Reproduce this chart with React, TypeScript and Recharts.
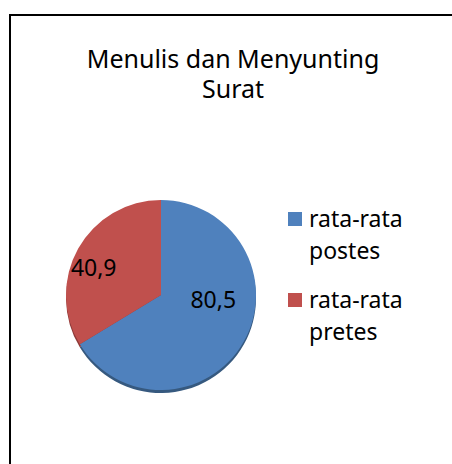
import { PieChart, Pie, Cell, Legend } from 'recharts'

const categories = ['rata-rata postes', 'rata-rata pretes']
const values = [80.5, 40.9]
const valueLabels = ['80,5', '40,9']
const colors = ['#4F81BD', '#C0504D']
const rimColors = ['#36597F', '#8E3A38']

const data = categories.map((name, i) => ({ name, value: values[i] }))

const FONT = '"Noto Sans", "Open Sans", sans-serif'
const RAD = Math.PI / 180

// office places the labels a bit off the mid angle, nudge them a little
const labelNudge = [
  { dx: -4, dy: -28 },
  { dx: -11, dy: 4 },
]

function renderLabel(props: any) {
  const { cx, cy, midAngle, outerRadius, index } = props
  const r = outerRadius * 0.68
  const x = cx + r * Math.cos(-midAngle * RAD) + labelNudge[index].dx
  const y = cy + r * Math.sin(-midAngle * RAD) + labelNudge[index].dy
  return (
    <text
      x={x}
      y={y}
      fill="#000"
      textAnchor="middle"
      dominantBaseline="central"
      fontSize={23}
      fontFamily={FONT}
    >
      {valueLabels[index]}
    </text>
  )
}

function LegendList() {
  return (
    <div style={{ fontFamily: FONT, fontSize: 23, lineHeight: '32px', color: '#000' }}>
      {data.map((d, i) => (
        <div key={d.name} style={{ display: 'flex', marginBottom: i === 0 ? 17 : 0 }}>
          <div
            style={{
              width: 14,
              height: 14,
              background: colors[i],
              marginTop: 10,
              marginRight: 7,
              flex: 'none',
            }}
          />
          <div style={{ width: 110 }}>{d.name}</div>
        </div>
      ))}
    </div>
  )
}

export default function App() {
  return (
    <div
      style={{
        position: 'absolute',
        left: 0,
        top: 0,
        width: 452,
        height: 464,
        background: '#fff',
        overflow: 'hidden',
      }}
    >
      <div style={{ position: 'absolute', left: 9, top: 14, width: 443, height: 2, background: '#000' }} />
      <div style={{ position: 'absolute', left: 9, top: 14, width: 2, height: 450, background: '#000' }} />
      <div
        style={{
          position: 'absolute',
          left: 33,
          top: 43,
          width: 400,
          textAlign: 'center',
          fontFamily: FONT,
          fontSize: 25,
          lineHeight: '30px',
          color: '#000',
        }}
      >
        Menulis dan Menyunting
        <br />
        Surat
      </div>
      <PieChart width={452} height={464} style={{ position: 'absolute', left: 0, top: 0 }}>
        <Pie
          data={data}
          dataKey="value"
          cx={156}
          cy={293}
          outerRadius={95}
          startAngle={90}
          endAngle={-270}
          stroke="none"
          isAnimationActive={false}
          legendType="none"
        >
          {data.map((d, i) => (
            <Cell key={d.name} fill={rimColors[i]} />
          ))}
        </Pie>
        <Pie
          data={data}
          dataKey="value"
          cx={156}
          cy={290}
          outerRadius={95}
          startAngle={90}
          endAngle={-270}
          stroke="none"
          label={renderLabel}
          labelLine={false}
          isAnimationActive={false}
        >
          {data.map((d, i) => (
            <Cell key={d.name} fill={colors[i]} />
          ))}
        </Pie>
        <Legend
          layout="vertical"
          content={() => <LegendList />}
          wrapperStyle={{ position: 'absolute', left: 288, top: 202, width: 150 }}
        />
      </PieChart>
    </div>
  )
}
